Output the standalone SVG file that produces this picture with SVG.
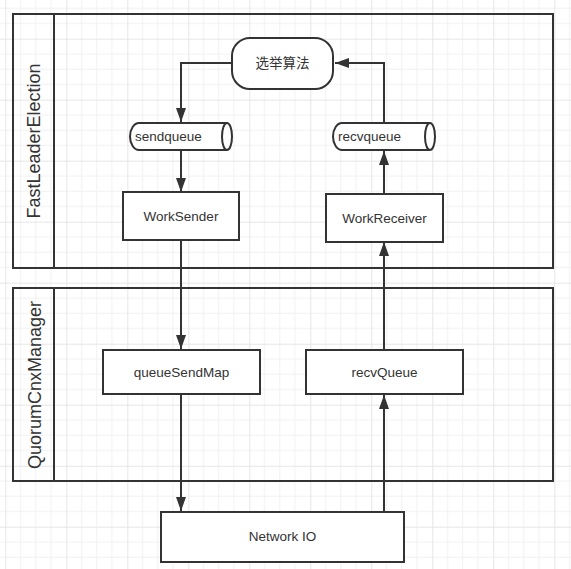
<svg xmlns="http://www.w3.org/2000/svg" width="571" height="569" viewBox="0 0 571 569">
  <defs>
    <pattern id="grid" patternUnits="userSpaceOnUse" x="5.3" y="38.7" width="61" height="61">
      <path d="M15.25 0V61M30.5 0V61M45.75 0V61M0 15.25H61M0 30.5H61M0 45.75H61" stroke="#f1f1f1" stroke-width="1" fill="none"/>
      <path d="M0.5 0V61M0 0.5H61" stroke="#e6e6e6" stroke-width="1" fill="none"/>
    </pattern>
    <marker id="arrow" viewBox="0 0 14 10" refX="14" refY="5" markerWidth="14" markerHeight="10" markerUnits="userSpaceOnUse" orient="auto">
      <path d="M0 0L14 5L0 10Z" fill="#333"/>
    </marker>
    <style>
      .box { fill: #fff; stroke: #333; stroke-width: 2; }
      .pool { fill: none; stroke: #333; stroke-width: 2; }
      .edge { fill: none; stroke: #333; stroke-width: 2; marker-end: url(#arrow); }
      .plain { fill: none; stroke: #333; stroke-width: 2; }
      .lbl { font-family: "Liberation Sans", "Noto Sans CJK SC", sans-serif; font-size: 13.5px; fill: #333; text-anchor: middle; }
      .cjk { font-family: "Noto Sans CJK SC", sans-serif; font-size: 13.5px; fill: #333; text-anchor: middle; }
      .pname { font-family: "Liberation Sans", sans-serif; font-size: 18px; fill: #333; text-anchor: middle; }
    </style>
  </defs>
  <rect x="0" y="0" width="571" height="569" fill="#fff"/>
  <rect x="0" y="0" width="571" height="569" fill="url(#grid)"/>

  <g id="pool-fle">
    <rect class="pool" x="13" y="14" width="540" height="254" fill="#fff" style="fill:none"/>
    <line class="plain" x1="54" y1="14" x2="54" y2="268"/>
    <text class="pname" transform="translate(40 141) rotate(-90)">FastLeaderElection</text>
  </g>

  <g id="pool-qcm">
    <rect class="pool" x="13" y="288" width="540" height="193"/>
    <line class="plain" x1="54" y1="288" x2="54" y2="481"/>
    <text class="pname" transform="translate(41 385) rotate(-90)">QuorumCnxManager</text>
  </g>

  <g id="connectors">
    <path class="edge" d="M232 63H181V122"/>
    <path class="edge" d="M181 150V192"/>
    <path class="edge" d="M181 240V349"/>
    <path class="edge" d="M181 394V511"/>
    <path class="edge" d="M384 512V395"/>
    <path class="edge" d="M384 350V242"/>
    <path class="edge" d="M384 193V151"/>
    <path class="edge" d="M384 123V63H335"/>
  </g>

  <g id="election">
    <rect class="box" x="232" y="38" width="101" height="51" rx="18" ry="18"/>
    <text class="cjk" x="282.5" y="68">选举算法</text>
  </g>

  <g id="sendqueue">
    <path class="box" d="M139 123H227A5 13.5 0 0 1 227 150H139A9 13.5 0 0 1 139 123Z"/>
    <path class="plain" d="M227 123A5 13.5 0 0 0 227 150"/>
    <text class="lbl" x="135" y="141" style="text-anchor:start">sendqueue</text>
  </g>

  <g id="recvqueue">
    <path class="box" d="M342 123H430A5 13.5 0 0 1 430 150H342A9 13.5 0 0 1 342 123Z"/>
    <path class="plain" d="M430 123A5 13.5 0 0 0 430 150"/>
    <text class="lbl" x="338" y="141" style="text-anchor:start">recvqueue</text>
  </g>

  <g id="worksender">
    <rect class="box" x="123" y="192" width="116" height="48"/>
    <text class="lbl" x="181" y="221">WorkSender</text>
  </g>

  <g id="workreceiver">
    <rect class="box" x="326" y="194" width="117" height="48"/>
    <text class="lbl" x="384.5" y="223">WorkReceiver</text>
  </g>

  <g id="queuesendmap">
    <rect class="box" x="103" y="350" width="157" height="44"/>
    <text class="lbl" x="181.5" y="377">queueSendMap</text>
  </g>

  <g id="recvqueue2">
    <rect class="box" x="306" y="350" width="157" height="44"/>
    <text class="lbl" x="384.5" y="377">recvQueue</text>
  </g>

  <g id="networkio">
    <rect class="box" x="161" y="512" width="243" height="50"/>
    <text class="lbl" x="282.5" y="541">Network IO</text>
  </g>
</svg>
